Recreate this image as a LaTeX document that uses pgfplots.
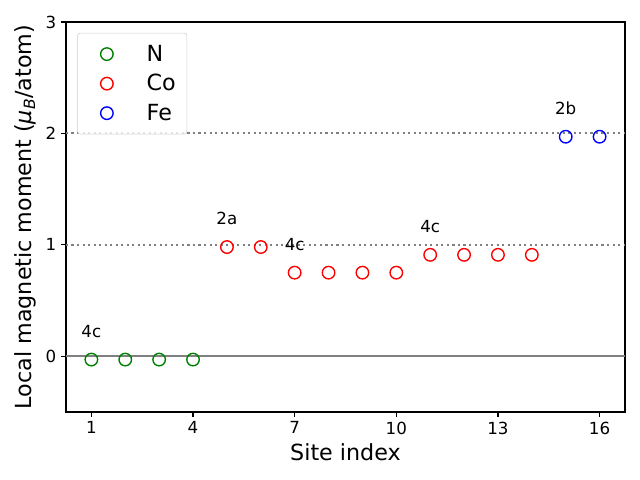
\documentclass[border=0pt]{standalone}
\usepackage{pgfplots}
\pgfplotsset{compat=1.18}
\usepackage{fontspec}
\setmainfont{DejaVu Sans}
\definecolor{mplgreen}{RGB}{0,128,0}
\begin{document}
\begin{tikzpicture}
\useasboundingbox (-47.5pt,-49pt) rectangle (413.3pt,296.6pt);
\begin{axis}[
  scale only axis,
  width=402.5pt, height=280.8pt,
  at={(0,0)}, anchor=south west,
  xmin=0.25, xmax=16.75, ymin=-0.5, ymax=3,
  xtick={1,4,7,10,13,16}, ytick={0,1,2,3},
  tick align=outside, tick pos=left,
  major tick length=3.5pt,
  every tick/.style={line width=0.8pt, black},
  axis line style={line width=0.8pt},
  /pgf/number format/assume math mode=true,
  tick label style={font=\fontsize{12}{14}\selectfont},
  label style={font=\fontsize{16}{19}\selectfont},
  xlabel={Site index},
  ylabel={Local magnetic moment (\textit{μ\textsubscript{B}}/atom)},
  legend image code/.code={\path (0pt,0pt) (41.5pt,0pt); \draw[#1] plot coordinates {(13pt,0pt)};},
  legend style={at={(0.02,0.972)}, anchor=north west,
    draw=black!20, rounded corners=2pt, fill=white, fill opacity=0.8, text opacity=1,
    inner xsep=8pt, inner ysep=8.5pt, row sep=8pt,
    nodes={font=\fontsize{16}{19}\selectfont, inner sep=0pt}},
  legend cell align=left,
  clip=false,
]
\addplot[gray, line width=1.5pt, forget plot] coordinates {(0.25,0) (16.75,0)};
\addplot[gray, line width=1.5pt, dash pattern=on 1.5pt off 2.475pt, forget plot] coordinates {(0.25,1) (16.75,1)};
\addplot[gray, line width=1.5pt, dash pattern=on 1.5pt off 2.475pt, forget plot] coordinates {(0.25,2) (16.75,2)};
\addplot[only marks, mark=o, mark size=4.5pt, mark options={line width=1pt, draw=mplgreen}] coordinates {
 (1,-0.03) (2,-0.03) (3,-0.03) (4,-0.03)};
\addlegendentry{N}
\addplot[only marks, mark=o, mark size=4.5pt, mark options={line width=1pt, draw=red}] coordinates {
 (5,0.98) (6,0.98) (7,0.75) (8,0.75) (9,0.75) (10,0.75) (11,0.91) (12,0.91) (13,0.91) (14,0.91)};
\addlegendentry{Co}
\addplot[only marks, mark=o, mark size=4.5pt, mark options={line width=1pt, draw=blue}] coordinates {
 (15,1.97) (16,1.97)};
\addlegendentry{Fe}
\node[anchor=base, font=\fontsize{12}{14}\selectfont] at (axis cs:1,0.17) {4c};
\node[anchor=base, font=\fontsize{12}{14}\selectfont] at (axis cs:5,1.18) {2a};
\node[anchor=base, font=\fontsize{12}{14}\selectfont] at (axis cs:7,0.95) {4c};
\node[anchor=base, font=\fontsize{12}{14}\selectfont] at (axis cs:11,1.11) {4c};
\node[anchor=base, font=\fontsize{12}{14}\selectfont] at (axis cs:15,2.17) {2b};
\end{axis}
\end{tikzpicture}
\end{document}
